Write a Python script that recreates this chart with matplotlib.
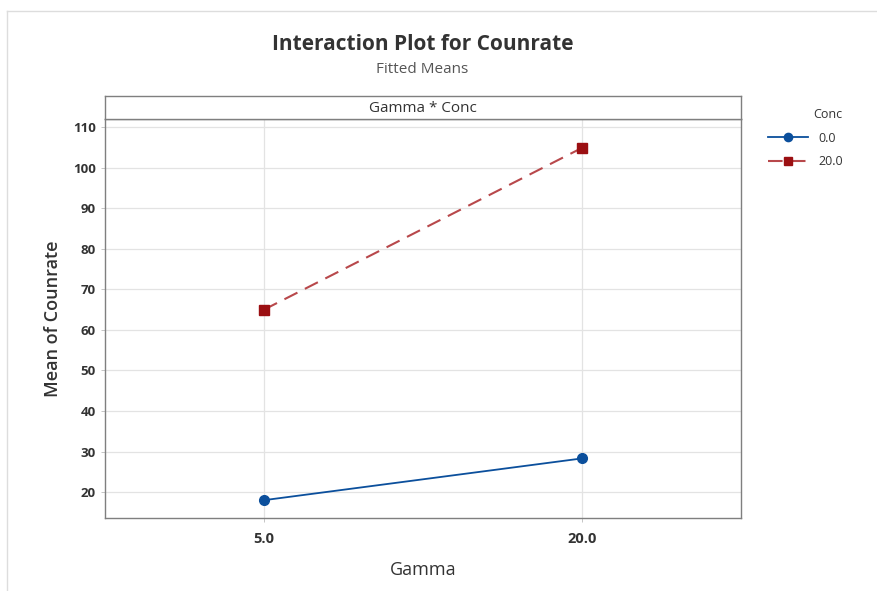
import matplotlib.pyplot as plt
from matplotlib.lines import Line2D

plt.rcParams['font.family'] = ['Open Sans', 'DejaVu Sans']

gamma = [5.0, 20.0]
conc_labels = ["0.0", "20.0"]
means_conc0 = [18.0, 28.3]
means_conc20 = [65.0, 104.9]
yticks = [20, 30, 40, 50, 60, 70, 80, 90, 100, 110]

blue = "#0B4F9C"
red = "#9B0F12"
red_line = "#B8484B"
text_col = "#333333"


def main():
    fig = plt.figure(figsize=(8.78, 5.91), dpi=100)

    # faint outer frame
    fig.add_artist(Line2D([0.008, 1.0], [0.981, 0.981], color="#DDDDDD", lw=1))
    fig.add_artist(Line2D([0.008, 0.008], [0.0, 0.981], color="#DDDDDD", lw=1))

    ax = fig.add_axes([0.1196, 0.1235, 0.7244, 0.675])
    ax.plot(gamma, means_conc0, color=blue, lw=1.3, marker="o", ms=7,
            mfc=blue, mec=blue, label=conc_labels[0], zorder=3)
    ax.plot(gamma, means_conc20, color=red_line, lw=1.5, ls=(0, (7, 4)),
            marker="s", ms=7, mfc=red, mec=red, label=conc_labels[1], zorder=3)

    ax.set_xlim(-2.5, 27.5)
    ax.set_ylim(13.6, 112)
    ax.set_xticks(gamma)
    ax.set_xticklabels(["5.0", "20.0"])
    ax.set_yticks(yticks)
    ax.grid(True, color="#E3E3E3", lw=0.9)
    ax.set_axisbelow(True)
    ax.tick_params(axis="both", length=3, width=0.6, color="#BBBBBB",
                   labelsize=9.5, labelcolor=text_col)
    ax.tick_params(axis="x", labelsize=10.5, pad=7)
    for lbl in ax.get_xticklabels() + ax.get_yticklabels():
        lbl.set_fontweight("bold")
    for sp in ax.spines.values():
        sp.set_color("#7F7F7F")
        sp.set_linewidth(1.0)
    ax.set_xlabel("Gamma", fontsize=13, color=text_col, labelpad=11)
    ax.set_ylabel("Mean of Counrate", fontsize=13, color=text_col, labelpad=8,
                  fontweight="semibold")

    # panel strip above the plot area
    strip = fig.add_axes([0.1196, 0.7986, 0.7244, 0.0389])
    strip.set_xticks([])
    strip.set_yticks([])
    for sp in strip.spines.values():
        sp.set_color("#7F7F7F")
        sp.set_linewidth(1.0)
    strip.text(0.5, 0.45, "Gamma * Conc", ha="center", va="center",
               fontsize=11, color=text_col, transform=strip.transAxes)

    fig.text(0.481, 0.925, "Interaction Plot for Counrate", ha="center",
             va="center", fontsize=15, fontweight="bold", color=text_col)
    fig.text(0.481, 0.882, "Fitted Means", ha="center", va="center",
             fontsize=11, color="#555555")

    leg = fig.legend(loc="upper left", bbox_to_anchor=(0.862, 0.836),
                     frameon=False, title="Conc", fontsize=9,
                     title_fontsize=9, handlelength=3.2, markerscale=0.85,
                     labelspacing=0.85, alignment="right")
    for t in leg.get_texts():
        t.set_color(text_col)
    leg.get_title().set_color(text_col)

    fig.savefig("out.png", dpi=100)


if __name__ == "__main__":
    main()
